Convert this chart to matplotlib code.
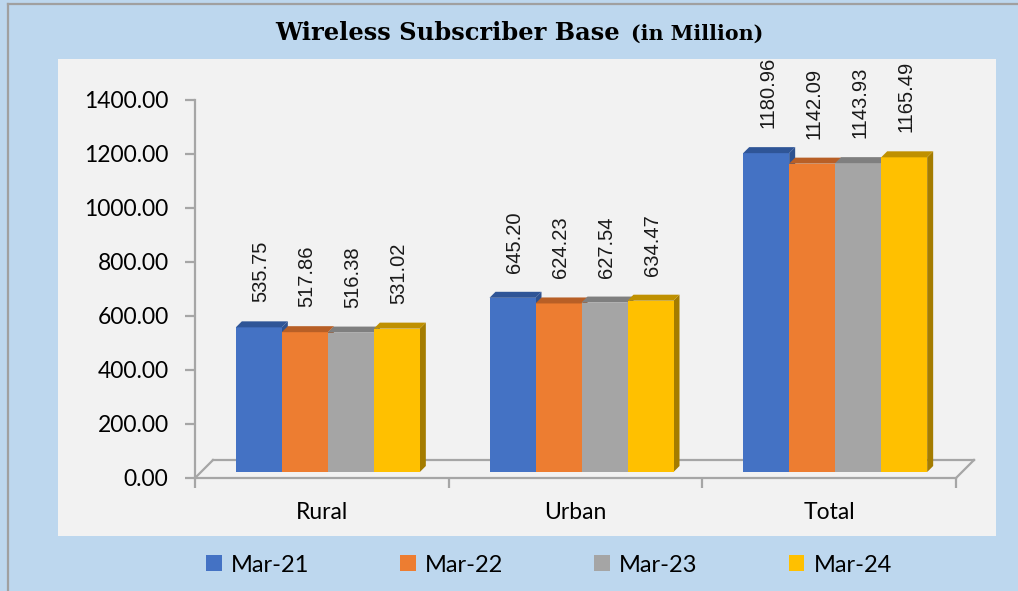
import matplotlib
matplotlib.use("Agg")
import matplotlib.pyplot as plt
from matplotlib.patches import Polygon, Rectangle
from matplotlib.lines import Line2D

# data
categories = ["Rural", "Urban", "Total"]
periods = ["Mar-21", "Mar-22", "Mar-23", "Mar-24"]
mar21 = [535.75, 645.20, 1180.96]
mar22 = [517.86, 624.23, 1142.09]
mar23 = [516.38, 627.54, 1143.93]
mar24 = [531.02, 634.47, 1165.49]
series = [mar21, mar22, mar23, mar24]
yticks = [0, 200, 400, 600, 800, 1000, 1200, 1400]

face = ["#4472C4", "#ED7D31", "#A5A5A5", "#FFC000"]
top_col = ["#2F5597", "#B85F26", "#7F7F7F", "#BF9000"]
side_col = ["#2E5290", "#A9561F", "#6F6F6F", "#A47C00"]

W, H = 1018, 591
fig = plt.figure(figsize=(W / 100, H / 100), dpi=100)
fig.patch.set_facecolor("#BDD7EE")

# outer border (left / top) and grey plot panel
fig.add_artist(Line2D([8 / W, 8 / W], [0, 1 - 4 / H], color="#A0A0A0", lw=1.6))
fig.add_artist(Line2D([8 / W, 1], [1 - 4 / H, 1 - 4 / H], color="#A0A0A0", lw=1.6))
fig.add_artist(Rectangle((58 / W, 1 - 536 / H), (996 - 58) / W, (536 - 59) / H,
                         transform=fig.transFigure, facecolor="#F2F2F2", edgecolor="none",
                         zorder=-5))

# axes: y-axis at x=195px, zero at y=478px, 1400 at y=100px
x0, x1 = 195, 956
y0, ytop = 478, 59
ppu = (478 - 100) / 1400.0
ymax = (y0 - ytop) / ppu
ax = fig.add_axes([x0 / W, 1 - y0 / H, (x1 - x0) / W, (y0 - ytop) / H])
ax.set_facecolor("none")
ax.set_xlim(-0.5, 2.5)
ax.set_ylim(0, ymax)
ppx = (x1 - x0) / 3.0  # pixels per category

def dxu(px):
    return px / ppx

def dyu(px):
    return px / ppu

spine_col = "#A6A6A6"
for s in ["top", "right"]:
    ax.spines[s].set_visible(False)
ax.spines["left"].set_bounds(0, 1400)
ax.spines["left"].set_color(spine_col)
ax.spines["bottom"].set_color(spine_col)
ax.spines["left"].set_linewidth(1.6)
ax.spines["bottom"].set_linewidth(1.6)

# floor (3-D look)
fd = 18
ax.plot([-0.5 + dxu(fd), 2.5 + dxu(fd)], [dyu(fd), dyu(fd)], color=spine_col, lw=1.6, clip_on=False)
ax.plot([-0.5, -0.5 + dxu(fd)], [0, dyu(fd)], color=spine_col, lw=1.6, clip_on=False)
ax.plot([2.5, 2.5 + dxu(fd)], [0, dyu(fd)], color=spine_col, lw=1.6, clip_on=False)

ax.set_yticks(yticks)
ax.set_yticklabels([f"{t:.2f}" for t in yticks], fontsize=16.5, family="Lato")
ax.set_xticks([-0.5, 0.5, 1.5, 2.5], minor=False)
ax.set_xticklabels([])
ax.set_xticks([0, 1, 2], minor=True)
ax.set_xticklabels(categories, minor=True, fontsize=16.5, family="Lato")
ax.tick_params(axis="x", which="minor", length=0, pad=17)
ax.tick_params(axis="x", which="major", length=7, color=spine_col, width=1.6)
ax.tick_params(axis="y", length=7, color=spine_col, width=1.6, pad=12)

# bars with top and side faces
bw = 46 / ppx
off = 6
dep = 6
for i, vals in enumerate(series):
    xs = [k - 2 * bw + i * bw + bw / 2 + dxu(off) for k in range(3)]
    ax.bar(xs, vals, width=bw, bottom=dyu(off), color=face[i], zorder=3 + i, label=periods[i])
    for x, v in zip(xs, vals):
        l, r = x - bw / 2, x + bw / 2
        t = v + dyu(off)
        b = dyu(off)
        ax.add_patch(Polygon([(l, t), (r, t), (r + dxu(dep), t + dyu(dep)), (l + dxu(dep), t + dyu(dep))],
                             closed=True, facecolor=top_col[i], edgecolor="none", zorder=3 + i))
        ax.add_patch(Polygon([(r, b), (r, t), (r + dxu(dep), t + dyu(dep)), (r + dxu(dep), b + dyu(dep))],
                             closed=True, facecolor=side_col[i], edgecolor="none", zorder=2.9 + i))
        ax.annotate(f"{v:.2f}", xy=(x, t), xytext=(2, 25), textcoords="offset pixels",
                    rotation=90, ha="center", va="bottom", fontsize=14.5,
                    family="Liberation Sans", color="#1A1A1A", zorder=10)

# legend
leg = fig.legend(loc="center", bbox_to_anchor=(549 / W, 1 - 565 / H), ncol=4, frameon=False,
                 prop={"family": "Lato", "size": 17}, handlelength=0.65, handleheight=0.65,
                 handletextpad=0.4, columnspacing=3.85)

# title
fig.text(620 / W, 1 - 40 / H, "Wireless Subscriber Base", ha="right", va="baseline",
         family="DejaVu Serif", weight="bold", fontsize=17.4)
fig.text(631 / W, 1 - 40 / H, "(in Million)", ha="left", va="baseline",
         family="DejaVu Serif", weight="bold", fontsize=14.8)

fig.savefig("out.png", dpi=100, facecolor=fig.get_facecolor())
